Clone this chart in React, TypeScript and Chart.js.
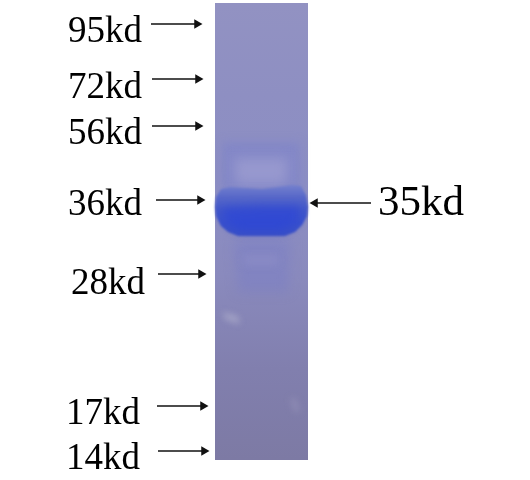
import { useEffect, useRef } from 'react'
import { Chart, registerables } from 'chart.js'

Chart.register(...registerables)

const MARKER_LABELS = ['95kd', '72kd', '56kd', '36kd', '28kd', '17kd', '14kd']
const LABEL_X = [68, 68, 68, 68, 71, 66, 66]
const LABEL_Y = [32, 88, 134, 205, 284, 414, 459]
const ARROW_Y = [24, 79, 126, 200, 274, 406, 451]
const ARROW_FROM = [151, 152, 152, 156, 158, 157, 158]
const ARROW_TO = [197, 198, 198, 200, 201, 203, 204]

const TARGET_LABEL = '35kd'
const TARGET_Y = 203
const TARGET_FROM = 371
const TARGET_TO = 315

// lane and stained areas as outlines in gel coordinates, painted back to front
const LANE_X = [215, 308, 308, 215]
const LANE_Y = [3, 3, 460, 460]
const GHOST_X = [222, 300, 300, 222]
const GHOST_Y = [142, 142, 192, 192]
const GHOST_INNER_X = [234, 288, 286, 236]
const GHOST_INNER_Y = [158, 158, 184, 184]
const BAND_X = [215, 216, 221, 230, 262, 292, 301, 306, 308, 307, 302, 295, 285, 238, 228, 221, 216]
const BAND_Y = [207, 197, 189, 187, 189, 185, 186, 195, 207, 216, 225, 232, 236, 236, 232, 226, 216]
const CORE_X = [222, 262, 300, 300, 282, 240, 224]
const CORE_Y = [208, 206, 206, 220, 232, 232, 220]
const SMEAR_X = [234, 290, 288, 238]
const SMEAR_Y = [240, 240, 292, 292]
const SMEAR_INNER_X = [244, 278, 278, 244]
const SMEAR_INNER_Y = [256, 256, 264, 264]
const SPECK_X = [222, 238, 240, 226]
const SPECK_Y = [312, 316, 324, 320]
const STREAK_X = [290, 296, 300, 294]
const STREAK_Y = [398, 398, 412, 412]

type Region = {
  xs: number[]
  ys: number[]
  blur: number
  fill: string | string[]
}

const REGIONS: Region[] = [
  { xs: LANE_X, ys: LANE_Y, blur: 0, fill: ['#9292c2', '#8e8fc2', '#8c8ec4', '#8a8abd', '#817fae', '#7d7aa4'] },
  { xs: GHOST_X, ys: GHOST_Y, blur: 5, fill: 'rgba(118,125,205,0.4)' },
  { xs: GHOST_INNER_X, ys: GHOST_INNER_Y, blur: 6, fill: 'rgba(160,160,210,0.7)' },
  { xs: SMEAR_X, ys: SMEAR_Y, blur: 6, fill: 'rgba(118,122,200,0.4)' },
  { xs: SMEAR_INNER_X, ys: SMEAR_INNER_Y, blur: 4, fill: 'rgba(150,150,205,0.45)' },
  { xs: SPECK_X, ys: SPECK_Y, blur: 3, fill: 'rgba(185,185,210,0.55)' },
  { xs: STREAK_X, ys: STREAK_Y, blur: 3, fill: 'rgba(155,153,190,0.5)' },
  { xs: BAND_X, ys: BAND_Y, blur: 1.2, fill: ['#7480cd', '#5667c9', '#4257c9', '#3950cc', '#3a50c4'] },
  { xs: CORE_X, ys: CORE_Y, blur: 5, fill: 'rgba(44,70,214,0.7)' },
]

const regionPlugin = {
  id: 'regionFill',
  beforeDatasetDraw(chart: any, args: any) {
    const ds = chart.data.datasets[args.index]
    if (!ds.regionFill) return
    const pts = args.meta.data
    const { ctx } = chart
    ctx.save()
    if (ds.regionBlur) ctx.filter = `blur(${ds.regionBlur}px)`
    ctx.beginPath()
    pts.forEach((p: any, i: number) => (i ? ctx.lineTo(p.x, p.y) : ctx.moveTo(p.x, p.y)))
    ctx.closePath()
    if (Array.isArray(ds.regionFill)) {
      const ys = pts.map((p: any) => p.y)
      const g = ctx.createLinearGradient(0, Math.min(...ys), 0, Math.max(...ys))
      ds.regionFill.forEach((c: string, i: number) => g.addColorStop(i / (ds.regionFill.length - 1), c))
      ctx.fillStyle = g
    } else {
      ctx.fillStyle = ds.regionFill
    }
    ctx.fill()
    ctx.restore()
  },
}

const textPlugin = {
  id: 'markerText',
  afterDraw(chart: any) {
    const { ctx, scales } = chart
    ctx.save()
    ctx.fillStyle = '#000000'
    ctx.textBaseline = 'middle'
    ctx.textAlign = 'left'
    ctx.font = '37px "Liberation Serif"'
    MARKER_LABELS.forEach((label, i) => {
      ctx.fillText(label, scales.x.getPixelForValue(LABEL_X[i]), scales.y.getPixelForValue(LABEL_Y[i]))
    })
    ctx.font = '43px "Liberation Serif"'
    ctx.fillText(TARGET_LABEL, scales.x.getPixelForValue(378), scales.y.getPixelForValue(TARGET_Y + 1))
    ctx.restore()
  },
}

function arrow(from: number, to: number, y: number, order: number) {
  return {
    data: [{ x: from, y }, { x: to, y }],
    showLine: true,
    borderColor: '#111111',
    borderWidth: 1.5,
    pointStyle: 'triangle',
    pointRotation: to > from ? 90 : -90,
    pointRadius: [0, 5.5],
    pointBackgroundColor: '#111111',
    pointBorderWidth: 0,
    order,
  }
}

export default function App() {
  const canvasRef = useRef<HTMLCanvasElement | null>(null)

  useEffect(() => {
    if (!canvasRef.current) return
    document.body.style.margin = '0'

    const regionSets = REGIONS.map((r, i) => ({
      data: r.xs.map((x, j) => ({ x, y: r.ys[j] })),
      regionFill: r.fill,
      regionBlur: r.blur,
      showLine: false,
      pointRadius: 0,
      order: 100 - i,
    }))
    const arrowSets = MARKER_LABELS.map((_, i) => arrow(ARROW_FROM[i], ARROW_TO[i], ARROW_Y[i], 0))

    const chart = new Chart(canvasRef.current, {
      type: 'scatter',
      data: {
        datasets: [...regionSets, ...arrowSets, arrow(TARGET_FROM, TARGET_TO, TARGET_Y, 0)] as any,
      },
      options: {
        animation: false,
        responsive: false,
        devicePixelRatio: 1,
        layout: { padding: 0, autoPadding: false },
        scales: {
          x: { type: 'linear', display: false, min: 0, max: 530 },
          y: { type: 'linear', display: false, min: 0, max: 480, reverse: true },
        },
        plugins: {
          legend: { display: false },
          tooltip: { enabled: false },
        },
      },
      plugins: [regionPlugin, textPlugin],
    })

    return () => chart.destroy()
  }, [])

  return <canvas ref={canvasRef} width={530} height={480} style={{ display: 'block' }} />
}
